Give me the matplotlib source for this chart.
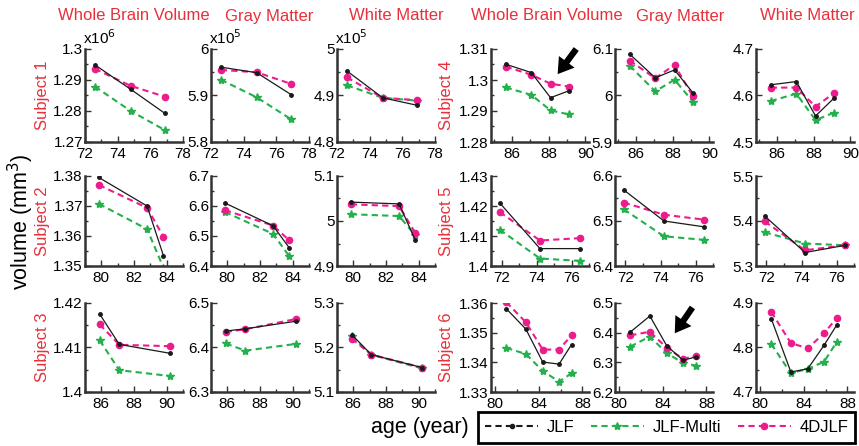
import numpy as np
import matplotlib.pyplot as plt
from matplotlib.lines import Line2D
from matplotlib.patches import Rectangle
from matplotlib.ticker import MultipleLocator, FormatStrFormatter

plt.rcParams['font.family'] = ['Liberation Sans', 'DejaVu Sans']

# ages (years) of the scans for each subject
age_s1 = [72.6, 74.8, 76.9]
age_s2 = [79.85, 82.8, 83.8]
age_s3 = [85.9, 87.1, 90.2]
age_s4 = [85.65, 87.05, 88.1, 89.1]
age_s5 = [71.9, 74.2, 76.5]
age_s6 = [81.0, 82.8, 84.35, 85.85, 87.0]

# volumes, rows = JLF, JLF-Multi, 4DJLF
s1_wbv = [[1.2949, 1.2870, 1.2792], [1.2879, 1.2800, 1.2738], [1.2936, 1.2881, 1.2846]]
s1_gm = [[5.961, 5.949, 5.902], [5.934, 5.896, 5.849], [5.955, 5.950, 5.925]]
s1_wm = [[4.953, 4.895, 4.879], [4.922, 4.895, 4.889], [4.939, 4.895, 4.890]]

s2_wbv = [[1.3795, 1.3700, 1.3535], [1.3707, 1.3623, 1.3495], [1.3770, 1.3694, 1.3598]]
s2_gm = [[6.610, 6.534, 6.460], [6.580, 6.507, 6.432], [6.586, 6.535, 6.485]]
s2_wm = [[5.042, 5.038, 4.957], [5.015, 5.011, 4.968], [5.037, 5.033, 4.973]]

s3_wbv = [[1.4175, 1.4107, 1.4087], [1.4116, 1.4049, 1.4036], [1.4152, 1.4106, 1.4103]]
s3_gm = [[6.437, 6.442, 6.459], [6.409, 6.393, 6.408], [6.435, 6.441, 6.464]]
s3_wm = [[5.229, 5.184, 5.155], [5.225, 5.184, 5.153], [5.220, 5.184, 5.155]]

s4_wbv = [[1.3051, 1.3024, 1.2943, 1.2965], [1.2976, 1.2952, 1.2902, 1.2889], [1.3043, 1.3017, 1.2988, 1.2979]]
s4_gm = [[6.089, 6.038, 6.055, 6.006], [6.064, 6.009, 6.034, 5.987], [6.075, 6.037, 6.066, 5.998]]
s4_wm = [[4.623, 4.630, 4.556, 4.594], [4.588, 4.604, 4.547, 4.563], [4.617, 4.617, 4.576, 4.605]]

s5_wbv = [[1.4210, 1.4058, 1.4058], [1.4121, 1.4025, 1.4017], [1.4180, 1.4085, 1.4093]]
s5_gm = [[6.569, 6.500, 6.487], [6.526, 6.466, 6.458], [6.541, 6.514, 6.503]]
s5_wm = [[5.411, 5.330, 5.346], [5.375, 5.350, 5.346], [5.399, 5.335, 5.346]]

s6_wbv = [[1.3581, 1.3512, 1.3401, 1.3394, 1.3460], [1.3449, 1.3428, 1.3371, 1.3335, 1.3363],
          [1.3603, 1.3535, 1.3443, 1.3443, 1.3491]]
s6_gm = [[6.402, 6.456, 6.356, 6.307, 6.318], [6.353, 6.387, 6.331, 6.298, 6.289],
         [6.391, 6.403, 6.349, 6.312, 6.321]]
s6_wm = [[4.865, 4.745, 4.752, 4.805, 4.850], [4.808, 4.742, 4.752, 4.768, 4.812],
         [4.880, 4.810, 4.798, 4.832, 4.866]]

methods = ['JLF', 'JLF-Multi', '4DJLF']
regions = ['Whole Brain Volume', 'Gray Matter', 'White Matter']
subjects = ['Subject 1', 'Subject 2', 'Subject 3', 'Subject 4', 'Subject 5', 'Subject 6']

ages = [age_s1, age_s2, age_s3, age_s4, age_s5, age_s6]
vols = [[s1_wbv, s1_gm, s1_wm], [s2_wbv, s2_gm, s2_wm], [s3_wbv, s3_gm, s3_wm],
        [s4_wbv, s4_gm, s4_wm], [s5_wbv, s5_gm, s5_wm], [s6_wbv, s6_gm, s6_wm]]

# axis setup per subject: xlim, x tick step, (ylim, y tick step) per region
xlims = [(72, 78), (79, 85), (85, 91), (84.85, 90.2), (71.4, 77), (79.6, 88.6)]
xsteps = [2, 2, 2, 2, 2, 4]
ylims = [[(1.27, 1.30, 0.01), (5.8, 6.0, 0.1), (4.8, 5.0, 0.1)],
         [(1.35, 1.38, 0.01), (6.4, 6.7, 0.1), (4.9, 5.1, 0.1)],
         [(1.40, 1.42, 0.01), (6.3, 6.5, 0.1), (5.1, 5.3, 0.1)],
         [(1.28, 1.31, 0.01), (5.9, 6.1, 0.1), (4.5, 4.7, 0.1)],
         [(1.40, 1.43, 0.01), (6.4, 6.6, 0.1), (5.3, 5.5, 0.1)],
         [(1.33, 1.36, 0.01), (6.2, 6.5, 0.1), (4.7, 4.9, 0.1)]]
exps = ['x10$^6$', 'x10$^5$', 'x10$^5$']

colors = ['#1a1a1a', '#24b04c', '#ec1c8c']
red = '#e8303a'

W, H = 859, 446
fig = plt.figure(figsize=(W / 100, H / 100), dpi=100)

col_left = [85, 211, 337, 491, 615, 756]
col_w = 98
row_top = [49, 176, 303]
row_h = [93, 90, 89]


def draw(ax, x, data, xl, xs, yl):
    jlf, multi, four = data
    ax.plot(x, multi, color=colors[1], ls='--', dashes=(3, 2), lw=1.5, marker='*', ms=6)
    ax.plot(x, four, color=colors[2], ls='--', dashes=(3, 2), lw=1.5, marker='o', ms=4.5)
    ax.plot(x, jlf, color=colors[0], ls='-', lw=0.9, marker='o', ms=2.5)
    ax.set_xlim(*xl)
    ax.set_ylim(yl[0], yl[1])
    ax.xaxis.set_major_locator(MultipleLocator(xs))
    ax.xaxis.set_minor_locator(MultipleLocator(xs / 2))
    ax.yaxis.set_major_locator(MultipleLocator(yl[2]))
    ax.yaxis.set_minor_locator(MultipleLocator(yl[2] / 2))
    ax.yaxis.set_major_formatter(FormatStrFormatter('%g'))
    ax.xaxis.set_major_formatter(FormatStrFormatter('%g'))
    for s in ['top', 'right']:
        ax.spines[s].set_visible(False)
    for s in ['left', 'bottom']:
        ax.spines[s].set_linewidth(1.8)
        ax.spines[s].set_color('#333333')
    ax.tick_params(which='both', direction='in', width=1, color='#333333')
    ax.tick_params(which='major', length=4, labelsize=11, pad=1.5)
    ax.tick_params(axis='x', which='major', pad=3.5)
    ax.tick_params(which='minor', length=2.5)


for si in range(6):
    block = si // 3
    r = si % 3
    for ri in range(3):
        c = block * 3 + ri
        ax = fig.add_axes([col_left[c] / W, 1 - (row_top[r] + row_h[r]) / H, col_w / W, row_h[r] / H])
        draw(ax, ages[si], vols[si][ri], xlims[si], xsteps[si], ylims[si][ri])
        if si == 0:
            ax.text(-0.02, 1.02, exps[ri], transform=ax.transAxes, fontsize=11, va='bottom', ha='left')
        if si == 3 and ri == 0:
            ax.annotate('', xy=(0.68, 0.73), xytext=(0.87, 1.0), xycoords='axes fraction',
                        arrowprops=dict(facecolor='black', edgecolor='none', width=4.5,
                                        headwidth=14, headlength=11, shrink=0))
        if si == 5 and ri == 1:
            ax.annotate('', xy=(0.61, 0.66), xytext=(0.79, 0.95), xycoords='axes fraction',
                        arrowprops=dict(facecolor='black', edgecolor='none', width=4.5,
                                        headwidth=14, headlength=11, shrink=0))
    lab_x = [42, 447][block]
    fig.text(lab_x / W, 1 - (row_top[r] + row_h[r] / 2) / H, subjects[si], rotation=90,
             color=red, fontsize=12, ha='center', va='center')

title_x = [134, 269, 396, 547, 680, 807]
for c in range(6):
    fig.text(title_x[c] / W, 1 - 16 / H, regions[c % 3], color=red, fontsize=12,
             ha='center', va='center')

fig.text(21 / W, 1 - 222 / H, 'volume (mm$^3$)', rotation=90, fontsize=15.5, ha='center', va='center')
fig.text(420 / W, 1 - 428 / H, 'age (year)', fontsize=15.5, ha='center', va='center')

# legend box
fig.patches.append(Rectangle((478 / W, 3 / H), 377 / W, 31 / H, transform=fig.transFigure,
                             fill=False, edgecolor='black', linewidth=2))
handles = [Line2D([], [], color=colors[0], ls='--', dashes=(3, 2), lw=1.5, marker='o', ms=3),
           Line2D([], [], color=colors[1], ls='--', dashes=(3, 2), lw=1.5, marker='*', ms=6),
           Line2D([], [], color=colors[2], ls='--', dashes=(3, 2), lw=1.5, marker='o', ms=4.5)]
fig.legend(handles, methods, loc='center', ncol=3, bbox_to_anchor=(666.5 / W, 1 - 427.5 / H),
           fontsize=12, handlelength=3.2, handletextpad=0.5, columnspacing=1.0,
           frameon=False, borderpad=0, borderaxespad=0)

fig.savefig('out.png', dpi=100)
